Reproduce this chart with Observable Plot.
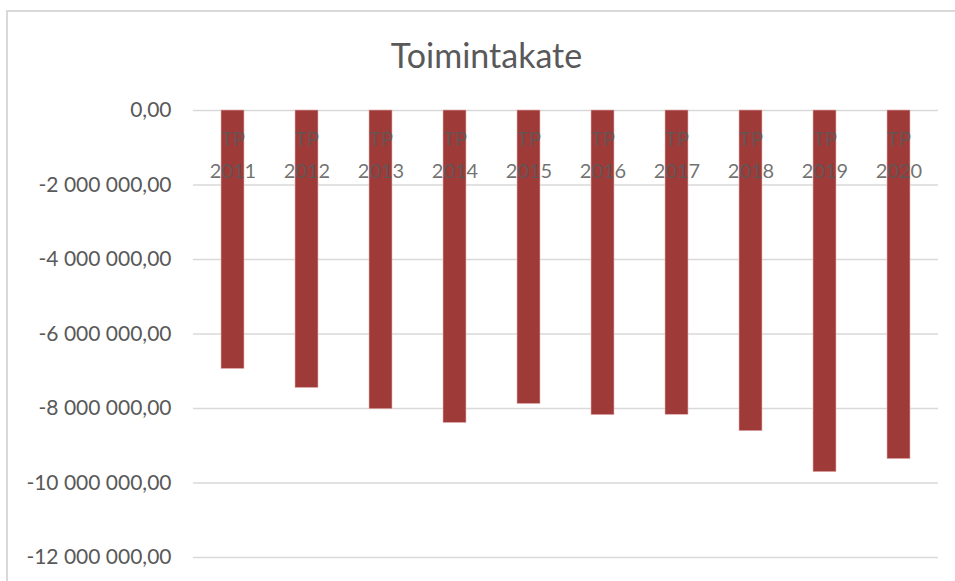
<!DOCTYPE html>
<html>
<head>
<meta charset="utf-8">
<script src="https://cdn.jsdelivr.net/npm/d3@7"></script>
<script src="https://cdn.jsdelivr.net/npm/@observablehq/plot@0.6"></script>
<style>
  html, body { margin: 0; padding: 0; background: #fff; }
  #frame { position: absolute; left: 6px; top: 10px; width: 960px; height: 580px;
           border-left: 2px solid #d9d9d9; border-top: 2px solid #d9d9d9; }
  #title { position: absolute; left: 0; top: 35px; width: 955px; padding-left: 18px; box-sizing: border-box;
           text-align: center; font-family: Lato, "Open Sans", sans-serif; font-size: 34px; color: #595959; line-height: 40px; }
  #chart { position: absolute; left: 0; top: 80px; }
</style>
</head>
<body>
<div id="frame"></div>
<div id="title">Toimintakate</div>
<div id="chart"></div>
<script>
const years = ["2011","2012","2013","2014","2015","2016","2017","2018","2019","2020"];
const prefix = "TP";
const values = [-6940000, -7450000, -8020000, -8390000, -7880000, -8180000, -8170000, -8610000, -9710000, -9360000];
const yTicks = [0, -2000000, -4000000, -6000000, -8000000, -10000000, -12000000];

const data = years.map((y, i) => ({year: y, value: values[i]}));

const fmt = d => {
  const s = Math.abs(d).toFixed(0).replace(/\B(?=(\d{3})+(?!\d))/g, " ");
  return (d < 0 ? "-" : "") + s + ",00";
};

const chart = Plot.plot({
  width: 955,
  height: 501,
  marginTop: 30,
  marginBottom: 24,
  marginLeft: 193,
  marginRight: 17,
  style: {fontFamily: "Lato, 'Open Sans', sans-serif", background: "transparent"},
  x: {domain: years, paddingInner: 0.69, paddingOuter: 0.345, axis: null},
  y: {domain: [-12000000, 0], axis: null},
  marks: [
    Plot.gridY(yTicks, {stroke: "#d9d9d9", strokeOpacity: 1, strokeWidth: 1.5}),
    Plot.axisY(yTicks, {tickFormat: fmt, tickSize: 0, tickPadding: 22, fontSize: 21, color: "#595959", fill: "#595959", label: null}),
    Plot.barY(data, {x: "year", y: "value", fill: "#9e3b39", stroke: "#e8b4b4", strokeWidth: 0.6}),
    Plot.text(data, {x: "year", y: 0, text: d => prefix, dy: 29, fontSize: 20, fill: "#595959", fillOpacity: 0.8}),
    Plot.text(data, {x: "year", y: 0, text: "year", dy: 61, fontSize: 20, fill: "#595959", fillOpacity: 0.85})
  ]
});
document.getElementById("chart").appendChild(chart);
</script>
</body>
</html>
